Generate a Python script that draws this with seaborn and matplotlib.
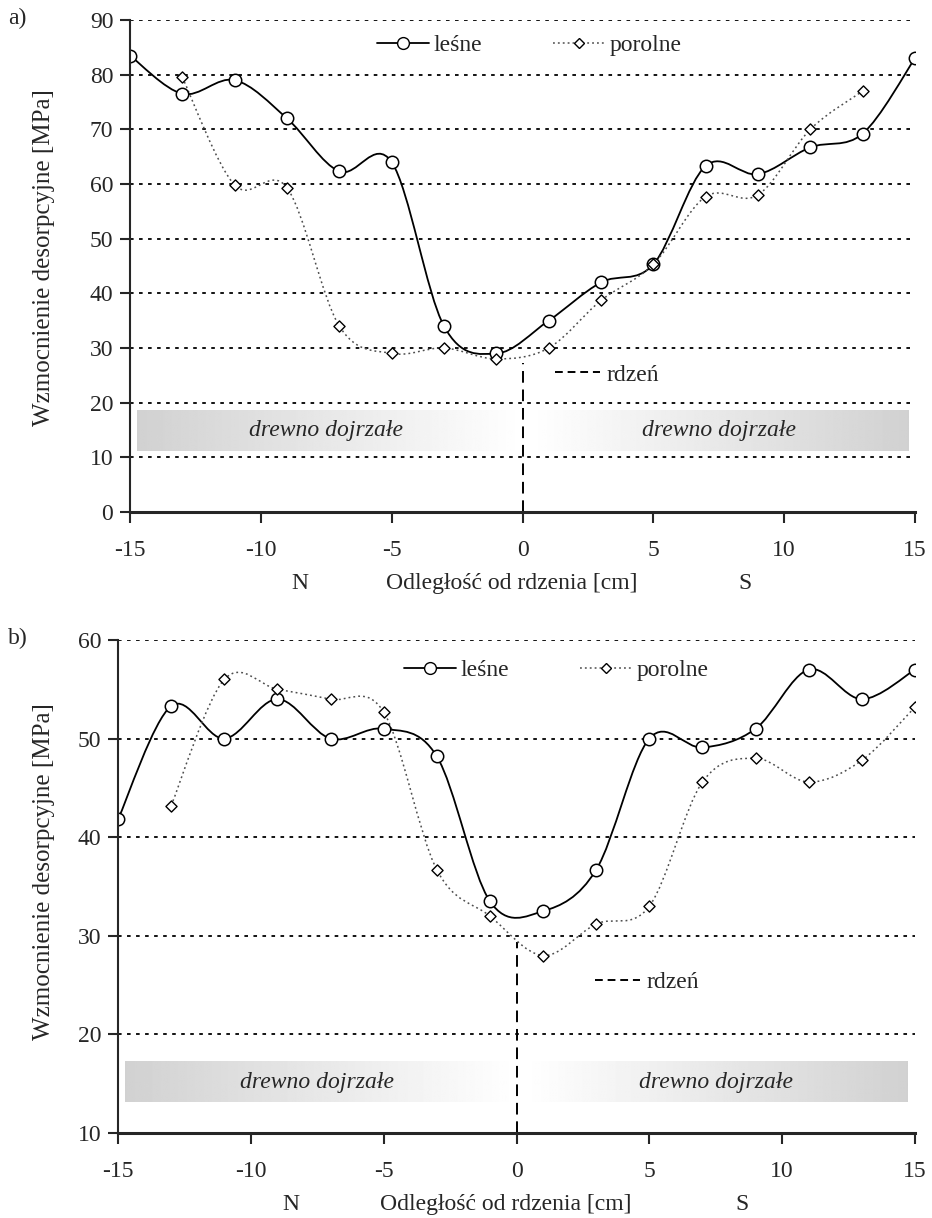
import numpy as np
import matplotlib
matplotlib.use("Agg")
import matplotlib.pyplot as plt
import seaborn as sns
from matplotlib.path import Path
from matplotlib.patches import PathPatch
from matplotlib.lines import Line2D
import matplotlib.transforms as mtransforms

# ---- data ----
x_lesne = [-15, -13, -11, -9, -7, -5, -3, -1, 1, 3, 5, 7, 9, 11, 13, 15]
x_porolne_a = [-13, -11, -9, -7, -5, -3, -1, 1, 3, 5, 7, 9, 11, 13]
x_porolne_b = [-13, -11, -9, -7, -5, -3, -1, 1, 3, 5, 7, 9, 11, 13, 15]

a_lesne = [83.5, 76.5, 79.0, 72.0, 62.3, 64.0, 34.0, 29.0, 35.0, 42.0, 45.3, 63.3, 61.8, 66.7, 69.2, 83.0]
a_porolne = [79.5, 59.8, 59.3, 34.0, 29.0, 30.0, 28.0, 30.0, 38.7, 45.3, 57.7, 58.0, 70.0, 77.0]

b_lesne = [41.8, 53.3, 50.0, 54.0, 50.0, 51.0, 48.2, 33.5, 32.5, 36.7, 50.0, 49.1, 51.0, 57.0, 54.0, 57.0]
b_porolne = [43.2, 56.0, 55.0, 54.0, 52.7, 36.7, 32.0, 28.0, 31.2, 33.0, 45.6, 48.0, 45.6, 47.8, 53.2]

x_ticks = [-15, -10, -5, 0, 5, 10, 15]
a_yticks = [0, 10, 20, 30, 40, 50, 60, 70, 80, 90]
b_yticks = [10, 20, 30, 40, 50, 60]

ylabel = "Wzmocnienie desorpcyjne [MPa]"
xlabel = "Odległość od rdzenia [cm]"
band_text = "drewno dojrzałe"

sns.set_style("white")
plt.rcParams["font.family"] = "Liberation Serif"
FONT = "Liberation Serif"


def smooth_path(xs, ys):
    # Excel-like smoothed line: cubic Bezier through every point
    p = np.column_stack([xs, ys]).astype(float)
    n = len(p)
    verts = [p[0]]
    codes = [Path.MOVETO]
    for i in range(n - 1):
        p_prev = p[i - 1] if i > 0 else p[i]
        p_next2 = p[i + 2] if i + 2 < n else p[i + 1]
        c1 = p[i] + (p[i + 1] - p_prev) / 6.0
        c2 = p[i + 1] - (p_next2 - p[i]) / 6.0
        verts += [c1, c2, p[i + 1]]
        codes += [Path.CURVE4] * 3
    return Path(verts, codes)


def draw_panel(ax, xl, yl, xp, yp, ylim, yticks, band, core_top, leg_pos, core_leg_pos):
    # gray gradient bands
    grad = np.linspace(0.82, 1.0, 256).reshape(1, -1)
    ax.imshow(grad, extent=[-14.75, 0, band[0], band[1]], aspect="auto",
              cmap="gray", vmin=0, vmax=1, zorder=0)
    ax.imshow(grad[:, ::-1], extent=[0.3, 14.75, band[0], band[1]], aspect="auto",
              cmap="gray", vmin=0, vmax=1, zorder=0)
    for xc in (-7.5, 7.5):
        ax.text(xc, (band[0] + band[1]) / 2, band_text, style="italic", fontsize=17,
                family=FONT, ha="center", va="center", zorder=1)

    # smoothed lines
    ax.add_patch(PathPatch(smooth_path(xl, yl), fill=False, edgecolor="black",
                           lw=1.3, zorder=3))
    ax.add_patch(PathPatch(smooth_path(xp, yp), fill=False, edgecolor="0.3",
                           lw=1.1, linestyle=(0, (1.2, 2.0)), zorder=3))

    sns.scatterplot(x=xl, y=yl, ax=ax, marker="o", s=80, color="white",
                    edgecolor="black", linewidth=1.1, zorder=5, legend=False)
    sns.scatterplot(x=xp, y=yp, ax=ax, marker="D", s=32, color="white",
                    edgecolor="black", linewidth=1.0, zorder=5, legend=False)

    # core line
    ax.axvline(0, ymin=0, ymax=(core_top - ylim[0]) / (ylim[1] - ylim[0]),
               color="black", lw=1.4, linestyle=(0, (6, 3.5)), zorder=2)

    ax.set_xlim(-15, 15)
    ax.set_ylim(*ylim)
    ax.set_xticks(x_ticks)
    ax.set_yticks(yticks)
    ax.set_xticklabels([str(t) for t in x_ticks], family=FONT)
    ax.set_yticklabels([str(t) for t in yticks], family=FONT)
    ax.tick_params(axis="x", direction="out", length=8, width=1.5, pad=12,
                   labelsize=17, bottom=True)
    ax.tick_params(axis="y", direction="out", length=7, width=1.5, pad=5,
                   labelsize=17, left=True)
    ax.yaxis.grid(True, color="black", linestyle=(0, (2, 3)), lw=1.3)
    ax.set_axisbelow(True)
    sns.despine(ax=ax)
    ax.spines["left"].set_linewidth(1.5)
    ax.spines["bottom"].set_linewidth(2.2)
    ax.spines["left"].set_zorder(6)
    ax.spines["bottom"].set_zorder(6)

    ax.set_ylabel(ylabel, fontsize=18, family=FONT)

    trans = mtransforms.blended_transform_factory(ax.transData, ax.transAxes)
    ax.text(-8.5, -0.145, "N", transform=trans, ha="center", va="center",
            fontsize=17, family=FONT)
    ax.text(8.5, -0.145, "S", transform=trans, ha="center", va="center",
            fontsize=17, family=FONT)
    ax.text(-0.4, -0.145, xlabel, transform=trans, ha="center", va="center",
            fontsize=17, family=FONT)

    h1 = Line2D([], [], color="black", lw=1.3, marker="o", markersize=8.5,
                markerfacecolor="white", markeredgecolor="black")
    h2 = Line2D([], [], color="0.3", lw=1.1, linestyle=(0, (1.2, 2.0)), marker="D",
                markersize=5.5, markerfacecolor="white", markeredgecolor="black")
    leg = ax.legend([h1, h2], ["leśne", "porolne"], ncol=2, frameon=False,
                    loc="center left", bbox_to_anchor=leg_pos,
                    bbox_transform=ax.transData, borderpad=0, borderaxespad=0,
                    handlelength=2.2, handletextpad=0.2, columnspacing=3.0,
                    prop={"family": FONT, "size": 17})
    ax.add_artist(leg)
    h3 = Line2D([], [], color="black", lw=1.4, linestyle=(0, (4, 2.5)))
    ax.legend([h3], ["rdzeń"], frameon=False, loc="center left",
              bbox_to_anchor=core_leg_pos, bbox_transform=ax.transData,
              borderpad=0, borderaxespad=0, handlelength=1.9,
              handletextpad=0.3, prop={"family": FONT, "size": 17})


fig = plt.figure(figsize=(9.32, 12.18), dpi=100)
ax_a = fig.add_axes([130 / 932, 1 - 512 / 1218, 785 / 932, 492 / 1218])
ax_b = fig.add_axes([118 / 932, 1 - 1133 / 1218, 797 / 932, 493 / 1218])

draw_panel(ax_a, x_lesne, a_lesne, x_porolne_a, a_porolne, (0, 90), a_yticks,
           (11.2, 18.7), 27.2, (-5.56, 85.4), (1.24, 25.1))
draw_panel(ax_b, x_lesne, b_lesne, x_porolne_b, b_porolne, (10, 60), b_yticks,
           (13.1, 17.2), 29.4, (-4.25, 56.9), (2.95, 25.3))

ax_a.yaxis.set_label_coords((55 - 130) / 785, (512 - 258) / 492)
ax_b.yaxis.set_label_coords((55 - 118) / 797, (1133 - 872) / 493)

fig.text(8 / 932, 1 - 18 / 1218, "a)", fontsize=17, family=FONT, va="center", ha="left")
fig.text(8 / 932, 1 - 638 / 1218, "b)", fontsize=17, family=FONT, va="center", ha="left")

fig.savefig("out.png", dpi=100)
